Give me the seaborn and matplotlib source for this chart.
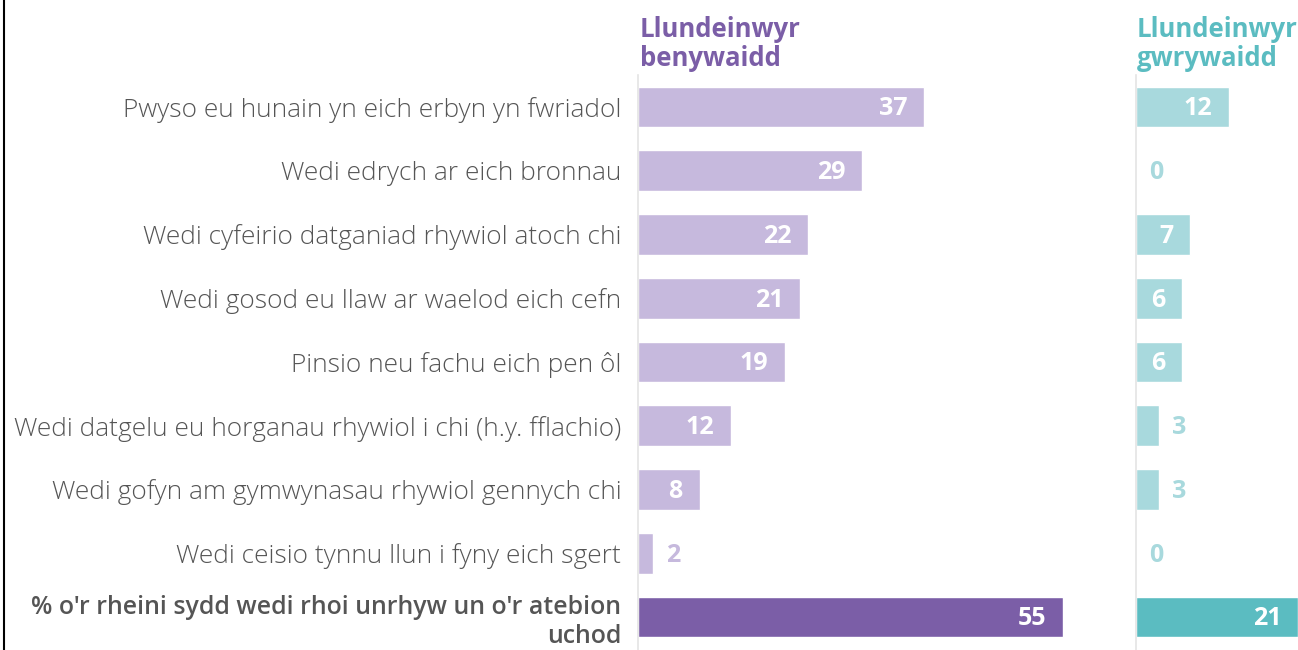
import matplotlib
matplotlib.use("Agg")
import matplotlib.pyplot as plt
from matplotlib.lines import Line2D
import seaborn as sns
import pandas as pd

categories = [
    "Pwyso eu hunain yn eich erbyn yn fwriadol",
    "Wedi edrych ar eich bronnau",
    "Wedi cyfeirio datganiad rhywiol atoch chi",
    "Wedi gosod eu llaw ar waelod eich cefn",
    "Pinsio neu fachu eich pen ôl",
    "Wedi datgelu eu horganau rhywiol i chi (h.y. fflachio)",
    "Wedi gofyn am gymwynasau rhywiol gennych chi",
    "Wedi ceisio tynnu llun i fyny eich sgert",
    "% o'r rheini sydd wedi rhoi unrhyw un o'r atebion\nuchod",
]
female = [37, 29, 22, 21, 19, 12, 8, 2, 55]
male = [12, 0, 7, 6, 6, 3, 3, 0, 21]
female_title = "Llundeinwyr\nbenywaidd"
male_title = "Llundeinwyr\ngwrywaidd"

sns.set_theme(style="white")
plt.rcParams['font.family'] = ['Open Sans', 'DejaVu Sans']

W, H = 1298, 650
fig = plt.figure(figsize=(W / 100, H / 100), dpi=100)

px = 7.73  # pixels per unit
top_px, bot_px = 75, 650
ylim = ((bot_px - 107) / 63.75, (top_px - 107) / 63.75)

def make_ax(x0, x1):
    return fig.add_axes([x0 / W, 1 - bot_px / H, (x1 - x0) / W, (bot_px - top_px) / H])

ax1 = make_ax(638, 1100)
ax2 = make_ax(1136, 1298)

panels = [
    (ax1, female, "#c6b9dd", "#7b5ea7", "#c6b9dd", (1100 - 638) / px, female_title),
    (ax2, male, "#a8d9dd", "#5bbcc1", "#a8d9dd", (1298 - 1136) / px, male_title),
]

df_cats = list(range(len(categories)))
for ax, vals, light, dark, outcol, xmax, title in panels:
    df = pd.DataFrame({"cat": [str(i) for i in df_cats], "val": vals})
    pal = {str(i): (dark if i == len(categories) - 1 else light) for i in df_cats}
    sns.barplot(data=df, x="val", y="cat", hue="cat", palette=pal, legend=False,
                width=0.64, ax=ax, orient="h", saturation=1)
    ax.set_xlim(0, xmax)
    ax.set_ylim(*ylim)
    ax.set_xlabel("")
    ax.set_ylabel("")
    ax.set_xticks([])
    for s in ["top", "right", "bottom"]:
        ax.spines[s].set_visible(False)
    ax.spines["left"].set_color("#e4e4e4")
    ax.spines["left"].set_linewidth(1.2)
    for p in ax.patches:
        p.set_clip_on(False)
    for i, v in enumerate(vals):
        if v >= 5:
            ax.text(v - 17 / px, i + 0.03, str(v), ha="right", va="center",
                    color="white", fontsize=18, fontweight="bold")
        else:
            ax.text(v + 13 / px, i + 0.03, str(v), ha="left", va="center",
                    color=outcol, fontsize=18, fontweight="bold")
    ax.text(0.004, 1.005, title, transform=ax.transAxes, ha="left", va="bottom",
            color=dark, fontsize=18.5, fontweight="bold", linespacing=1.08)

ax1.set_yticks(df_cats)
labels = ax1.set_yticklabels(categories, fontsize=18.9, color="#555555", fontweight="light")
labels[-1].set_fontweight("semibold")
labels[-1].set_fontsize(17.9)
ax1.tick_params(axis="y", length=0, pad=12)
ax2.set_yticks([])

fig.add_artist(Line2D([4 / W, 4 / W], [0, 1], color="black", linewidth=1.5))

fig.savefig("out.png", dpi=100, facecolor="white")
